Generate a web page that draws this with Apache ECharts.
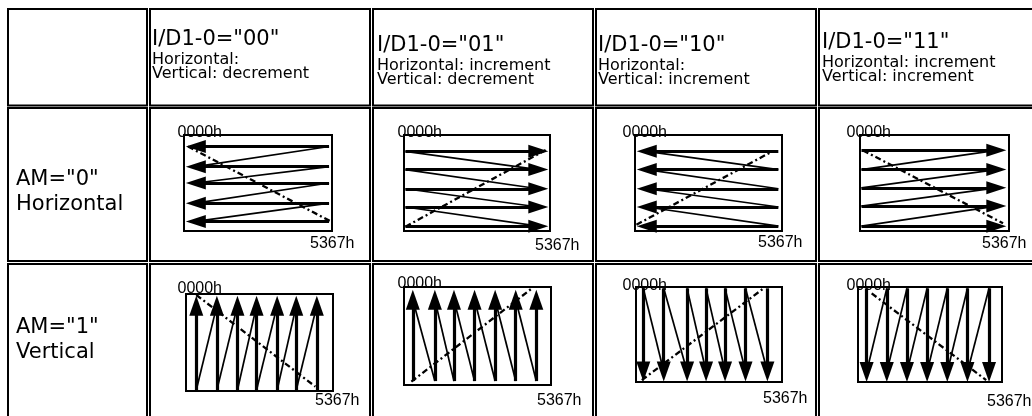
<!DOCTYPE html>
<html><head><meta charset="utf-8">
<script src="https://cdn.jsdelivr.net/npm/echarts@6/dist/echarts.min.js"></script>
<style>html,body{margin:0;padding:0;background:#fff}#c{width:1032px;height:416px}</style>
</head><body><div id="c"></div>
<script>
// ---------- texts ----------
const headerTitles = ['I/D1-0="00"', 'I/D1-0="01"', 'I/D1-0="10"', 'I/D1-0="11"'];
const headerHorizontal = ['Horizontal:', 'Horizontal: increment', 'Horizontal:', 'Horizontal: increment'];
const headerVertical = ['Vertical: decrement', 'Vertical: decrement', 'Vertical: increment', 'Vertical: increment'];
const rowLabels = ['AM="0"\nHorizontal', 'AM="1"\nVertical'];
const cornerLabels = ['0000h', '5367h'];

// ---------- AM="0" (horizontal scan): arrow rows y (% of box from top), arrow [tail x, head x] ----------
const h00RowsY = [12, 33, 50, 71, 90];
const h00ArrowX = [98, 8];
const h01RowsY = [17, 36, 56, 75, 95];
const h01ArrowX = [1, 92];
const h10RowsY = [17, 36, 56, 75, 95];
const h10ArrowX = [97.5, 8];
const h11RowsY = [16, 36, 55, 74, 95];
const h11ArrowX = [1, 91.5];

// ---------- AM="1" (vertical scan): arrow columns x (% of box), arrow [tail y, head y] ----------
const v00ColsX = [7, 21, 35, 48, 62, 75, 89];
const v00ArrowY = [99, 12];
const v01ColsX = [6, 21, 34, 48, 62, 76, 90];
const v01ArrowY = [96, 13];
const v10ColsX = [5, 19, 35, 48, 61, 75, 90];
const v10ArrowY = [1.4, 89];
const v11ColsX = [6, 20, 34, 48, 62, 76, 91];
const v11ArrowY = [1.4, 89.5];

// ---------- dash-dot start/end lines [x1,y1,x2,y2] ----------
const h00Diag = [2.7, 12, 98.6, 89.6];
const h01Diag = [1, 95.5, 97, 15.6];
const h10Diag = [1, 93.4, 93, 17.4];
const h11Diag = [2, 16, 96, 92];
const v00Diag = [7, 1, 88, 95.5];
const v01Diag = [5, 96.6, 87, 1.4];
const v10Diag = [4, 98, 88, 0.7];
const v11Diag = [9.5, 6.7, 89, 98];

// ---------- layout ----------
const FONT = 'DejaVu Sans, Verdana, sans-serif';
const FONT_SMALL = 'Liberation Sans, Arial, sans-serif';
const tableCols = [[8, 147], [150, 370], [373, 593], [596, 816], [819, 1045]];
const tableRows = [[9, 105.5], [108, 261], [264, 430]];

const diagramDefs = [
  {dir: 'h', pos: h00RowsY, ends: h00ArrowX, link: 'tailTip', diag: h00Diag, box: [184, 135, 148, 96], lab0: [-6, -10], lab1: [23, 5]},
  {dir: 'h', pos: h01RowsY, ends: h01ArrowX, link: 'tailTip', diag: h01Diag, box: [404, 135, 146, 96], lab0: [-6, -10], lab1: [30, 7]},
  {dir: 'h', pos: h10RowsY, ends: h10ArrowX, link: 'tipTail', diag: h10Diag, box: [635, 135, 147, 96], lab0: [-12, -10], lab1: [21, 4]},
  {dir: 'h', pos: h11RowsY, ends: h11ArrowX, link: 'tipTail', diag: h11Diag, box: [860, 135, 149, 96], lab0: [-13, -10], lab1: [18, 5]},
  {dir: 'v', pos: v00ColsX, ends: v00ArrowY, link: 'tailTip', diag: v00Diag, box: [186, 294, 147, 97], lab0: [-8, -13], lab1: [27, 2]},
  {dir: 'v', pos: v01ColsX, ends: v01ArrowY, link: 'tipTail', diag: v01Diag, box: [404, 287, 147, 98], lab0: [-6, -10.5], lab1: [31, 8]},
  {dir: 'v', pos: v10ColsX, ends: v10ArrowY, link: 'tailTip', diag: v10Diag, box: [636, 287, 146, 95], lab0: [-13, -8.5], lab1: [26, 9]},
  {dir: 'v', pos: v11ColsX, ends: v11ArrowY, link: 'tipTail', diag: v11Diag, box: [858, 287, 144, 95], lab0: [-11, -8.5], lab1: [30, 12]}
];

const grids = [], xAxes = [], yAxes = [], series = [], titles = [];

function addGrid(left, top, width, height, borderWidth) {
  const i = grids.length;
  grids.push({left, top, width, height, show: true, borderColor: '#000', borderWidth,
    backgroundColor: 'transparent', containLabel: false, outerBoundsMode: 'none'});
  xAxes.push({gridIndex: i, type: 'value', min: 0, max: 100, show: false});
  yAxes.push({gridIndex: i, type: 'value', min: 0, max: 100, inverse: true, show: false});
  return i;
}

// table cells (each cell outlined; neighbours give the double rules)
tableRows.forEach(r => tableCols.forEach(c => addGrid(c[0], r[0], c[1] - c[0], r[1] - r[0], 2)));

diagramDefs.forEach(d => {
  const g = addGrid(d.box[0], d.box[1], d.box[2], d.box[3], 2);
  const pt = (p, e) => d.dir === 'h' ? [e, p] : [p, e];
  const arrows = d.pos.map(p => ({coords: [pt(p, d.ends[0]), pt(p, d.ends[1])]}));
  const links = [];
  for (let k = 0; k < d.pos.length - 1; k++) {
    if (d.link === 'tailTip') links.push({coords: [pt(d.pos[k], d.ends[0]), pt(d.pos[k + 1], d.ends[1])]});
    else links.push({coords: [pt(d.pos[k], d.ends[1]), pt(d.pos[k + 1], d.ends[0])]});
  }
  const common = {type: 'lines', coordinateSystem: 'cartesian2d', xAxisIndex: g, yAxisIndex: g,
    polyline: false, clip: false, silent: true, effect: {show: false}};
  series.push(Object.assign({}, common, {
    data: links, symbol: ['none', 'none'],
    lineStyle: {color: '#000', width: 1.7, opacity: 1, curveness: 0}
  }));
  series.push(Object.assign({}, common, {
    data: arrows, symbol: ['none', 'triangle'], symbolSize: [1, d.dir === 'h' ? [13, 20] : [14, 20]],
    lineStyle: {color: '#000', width: 3.2, opacity: 1, curveness: 0}
  }));
  series.push(Object.assign({}, common, {
    data: [{coords: [[d.diag[0], d.diag[1]], [d.diag[2], d.diag[3]]]}], symbol: ['none', 'none'],
    lineStyle: {color: '#000', width: 2.3, opacity: 1, curveness: 0, type: [6, 3, 2, 3]}
  }));
  series.push({
    type: 'scatter', xAxisIndex: g, yAxisIndex: g, clip: false, silent: true,
    symbolSize: 1, itemStyle: {color: 'rgba(0,0,0,0)'},
    data: [
      {name: cornerLabels[0], value: [0, 0], label: {position: d.lab0, align: 'left', verticalAlign: 'top'}},
      {name: cornerLabels[1], value: [100, 100], label: {position: d.lab1, align: 'right', verticalAlign: 'top'}}
    ],
    label: {show: true, formatter: '{b}', color: '#000', opacity: 1, fontFamily: FONT_SMALL, fontSize: 16, lineHeight: 16}
  });
});

// header titles
const headerLeft = [152, 377, 598, 822];
const headerTop = [29, 35, 35, 32];
headerTitles.forEach((t, i) => {
  titles.push({
    left: headerLeft[i], top: headerTop[i], padding: 0, itemGap: 2,
    text: t, subtext: headerHorizontal[i] + '\n' + headerVertical[i],
    textStyle: {fontFamily: FONT, fontSize: 21, fontWeight: 'normal', color: '#000', lineHeight: 22},
    subtextStyle: {fontFamily: FONT, fontSize: 16, color: '#000', lineHeight: 14}
  });
});
const rowLabelTop = [167, 315];
rowLabels.forEach((t, i) => {
  titles.push({
    left: 16, top: rowLabelTop[i], padding: 0, text: t,
    textStyle: {fontFamily: FONT, fontSize: 21, fontWeight: 'normal', color: '#000', lineHeight: 25}
  });
});

const chart = echarts.init(document.getElementById('c'), null, {renderer: 'canvas'});
chart.setOption({
  animation: false, backgroundColor: '#fff',
  title: titles, grid: grids, xAxis: xAxes, yAxis: yAxes, series: series
});
</script></body></html>
